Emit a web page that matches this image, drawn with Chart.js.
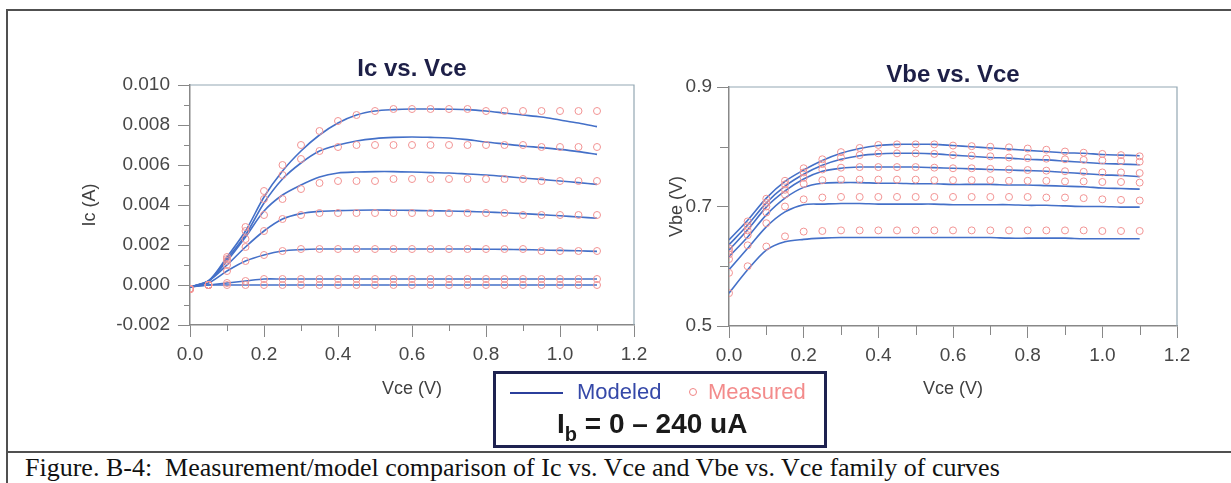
<!DOCTYPE html>
<html>
<head>
<meta charset="utf-8">
<script src="https://cdn.jsdelivr.net/npm/chart.js@4.4.1/dist/chart.umd.min.js"></script>
<style>
  body { margin: 0; background: #fff; width: 1231px; height: 483px; overflow: hidden; position: relative; font-family: "Liberation Sans", Arial, sans-serif; }
  .rule { position: absolute; background: #505050; }
  canvas { position: absolute; }
  #legend { position: absolute; left: 493px; top: 371px; width: 334px; height: 77px; border: 3px solid #1e2250; box-sizing: border-box; }
  #legend span { position: absolute; white-space: nowrap; }
  #caption { position: absolute; left: 25px; top: 455px; font: 26px/26px "Liberation Serif", "Times New Roman", serif; color: #111; white-space: nowrap; }
</style>
</head>
<body>
<div class="rule" style="left:7px; top:9px; width:1224px; height:2px;"></div>
<div class="rule" style="left:6px; top:9px; width:2px; height:474px;"></div>
<div class="rule" style="left:7px; top:451px; width:1224px; height:2px;"></div>

<canvas id="icChart" width="640" height="400" style="left:20px; top:20px;"></canvas>
<canvas id="vbeChart" width="560" height="400" style="left:660px; top:20px;"></canvas>

<div id="legend">
  <span style="left:14px; top:18px; width:53px; border-top:2px solid #2b3f9c;"></span>
  <span style="left:81px; top:7px; font-size:22px; line-height:22px; color:#3548a8;">Modeled</span>
  <span style="left:193px; top:14px; width:6px; height:6px; border:1px solid #f08585; border-radius:50%;"></span>
  <span style="left:212px; top:7px; font-size:22px; line-height:22px; color:#f38b8b;">Measured</span>
  <span style="left:61px; top:36px; font-size:28px; line-height:28px; font-weight:bold; color:#1a1a1a;">I<sub style="font-size:20px; vertical-align:-8px;">b</sub> = 0 &ndash; 240 uA</span>
</div>

<div id="caption">Figure. B-4:&nbsp; Measurement/model comparison of Ic vs. Vce and Vbe vs. Vce family of curves</div>

<script>
// sweep points (V)
const vce = [0, 0.05, 0.1, 0.15, 0.2, 0.25, 0.3, 0.35, 0.4, 0.45, 0.5, 0.55, 0.6, 0.65, 0.7, 0.75, 0.8, 0.85, 0.9, 0.95, 1.0, 1.05, 1.1];

// Ic vs Vce, modeled (A), lowest Ib first
const icMod1 = [-0.0001, 0.0000, 0.0000, 0.0000, 0.0000, 0.0000, 0.0000, 0.0000, 0.0000, 0.0000, 0.0000, 0.0000, 0.0000, 0.0000, 0.0000, 0.0000, 0.0000, 0.0000, 0.0000, 0.0000, 0.0000, 0.0000, 0.0000];
const icMod2 = [-0.0001, 0.0000, 0.0001, 0.0002, 0.0003, 0.0003, 0.0003, 0.0003, 0.0003, 0.0003, 0.0003, 0.0003, 0.0003, 0.0003, 0.0003, 0.0003, 0.0003, 0.0003, 0.0003, 0.0003, 0.0003, 0.0003, 0.0003];
const icMod3 = [-0.0001, 0.0001, 0.0007, 0.0012, 0.0015, 0.0017, 0.00177, 0.0018, 0.0018, 0.0018, 0.0018, 0.0018, 0.0018, 0.0018, 0.0018, 0.0018, 0.00179, 0.00178, 0.00177, 0.00175, 0.00173, 0.00171, 0.00168];
const icMod4 = [-0.0001, 0.0002, 0.0010, 0.0019, 0.0027, 0.0033, 0.00357, 0.00368, 0.00372, 0.00374, 0.00375, 0.00374, 0.00373, 0.00371, 0.0037, 0.00368, 0.00365, 0.00361, 0.00357, 0.00352, 0.00346, 0.0034, 0.00334];
const icMod5 = [-0.0001, 0.0002, 0.0012, 0.0024, 0.0037, 0.0045, 0.0050, 0.0054, 0.0056, 0.00565, 0.00567, 0.00567, 0.00565, 0.00562, 0.0056, 0.00555, 0.0055, 0.00543, 0.00535, 0.00528, 0.0052, 0.00512, 0.00503];
const icMod6 = [-0.0001, 0.0002, 0.0013, 0.0025, 0.0041, 0.0053, 0.0061, 0.0067, 0.0070, 0.0072, 0.00732, 0.00738, 0.0074, 0.00738, 0.00735, 0.00727, 0.00715, 0.00705, 0.00695, 0.00687, 0.00678, 0.00667, 0.00653];
const icMod7 = [-0.0001, 0.0002, 0.0014, 0.0027, 0.0044, 0.0057, 0.0067, 0.0075, 0.0081, 0.0085, 0.0087, 0.00877, 0.0088, 0.0088, 0.00879, 0.00877, 0.0087, 0.0086, 0.0085, 0.0084, 0.00825, 0.0081, 0.00792];

// Ic vs Vce, measured (A)
const icMeas1 = [-0.0002, 0.0000, 0.0000, 0.0000, 0.0000, 0.0000, 0.0000, 0.0000, 0.0000, 0.0000, 0.0000, 0.0000, 0.0000, 0.0000, 0.0000, 0.0000, 0.0000, 0.0000, 0.0000, 0.0000, 0.0000, 0.0000, 0.0000];
const icMeas2 = [-0.0002, 0.0000, 0.0001, 0.0002, 0.0003, 0.0003, 0.0003, 0.0003, 0.0003, 0.0003, 0.0003, 0.0003, 0.0003, 0.0003, 0.0003, 0.0003, 0.0003, 0.0003, 0.0003, 0.0003, 0.0003, 0.0003, 0.0003];
const icMeas3 = [-0.0002, 0.0000, 0.0007, 0.0012, 0.0015, 0.0017, 0.0018, 0.0018, 0.0018, 0.0018, 0.0018, 0.0018, 0.0018, 0.0018, 0.0018, 0.0018, 0.0018, 0.0018, 0.0018, 0.0017, 0.0017, 0.0017, 0.0017];
const icMeas4 = [-0.0002, 0.0000, 0.0010, 0.0019, 0.0027, 0.0033, 0.0035, 0.0036, 0.0036, 0.0036, 0.0036, 0.0036, 0.0036, 0.0036, 0.0036, 0.0036, 0.0036, 0.0036, 0.0035, 0.0035, 0.0035, 0.0035, 0.0035];
const icMeas5 = [-0.0002, 0.0000, 0.0012, 0.0023, 0.0035, 0.0043, 0.0048, 0.0051, 0.0052, 0.0052, 0.0052, 0.0053, 0.0053, 0.0053, 0.0053, 0.0053, 0.0053, 0.0053, 0.0053, 0.0052, 0.0052, 0.0052, 0.0052];
const icMeas6 = [-0.0002, 0.0000, 0.0013, 0.0027, 0.0043, 0.0055, 0.0063, 0.0067, 0.0069, 0.0070, 0.0070, 0.0070, 0.0070, 0.0070, 0.0070, 0.0070, 0.0070, 0.0070, 0.0070, 0.0069, 0.0069, 0.0069, 0.0069];
const icMeas7 = [-0.0002, 0.0000, 0.0014, 0.0029, 0.0047, 0.0060, 0.0070, 0.0077, 0.0082, 0.0085, 0.0087, 0.0088, 0.0088, 0.0088, 0.0088, 0.0088, 0.0087, 0.0087, 0.0087, 0.0087, 0.0087, 0.0087, 0.0087];

// Vbe vs Vce, modeled (V)
const vbeMod1 = [0.555, 0.594, 0.627, 0.641, 0.645, 0.647, 0.648, 0.648, 0.648, 0.648, 0.648, 0.648, 0.648, 0.648, 0.648, 0.647, 0.647, 0.647, 0.647, 0.646, 0.646, 0.646, 0.646];
const vbeMod2 = [0.594, 0.630, 0.666, 0.691, 0.703, 0.704, 0.705, 0.705, 0.704, 0.704, 0.704, 0.704, 0.703, 0.703, 0.703, 0.703, 0.702, 0.702, 0.701, 0.700, 0.700, 0.699, 0.699];
const vbeMod3 = [0.616, 0.649, 0.686, 0.714, 0.732, 0.739, 0.740, 0.740, 0.739, 0.739, 0.738, 0.738, 0.737, 0.737, 0.737, 0.736, 0.736, 0.735, 0.734, 0.733, 0.731, 0.730, 0.729];
const vbeMod4 = [0.627, 0.661, 0.699, 0.726, 0.746, 0.759, 0.764, 0.766, 0.766, 0.766, 0.766, 0.765, 0.764, 0.763, 0.762, 0.761, 0.760, 0.759, 0.757, 0.755, 0.753, 0.752, 0.750];
const vbeMod5 = [0.636, 0.669, 0.706, 0.734, 0.754, 0.769, 0.779, 0.785, 0.788, 0.789, 0.789, 0.788, 0.786, 0.784, 0.782, 0.781, 0.779, 0.778, 0.776, 0.774, 0.772, 0.771, 0.770];
const vbeMod6 = [0.644, 0.677, 0.714, 0.742, 0.761, 0.777, 0.789, 0.797, 0.802, 0.804, 0.804, 0.804, 0.802, 0.800, 0.798, 0.796, 0.794, 0.792, 0.790, 0.789, 0.787, 0.786, 0.785];

// Vbe vs Vce, measured (V)
const vbeMeas1 = [0.555, 0.600, 0.633, 0.650, 0.658, 0.659, 0.660, 0.660, 0.660, 0.660, 0.660, 0.660, 0.660, 0.660, 0.660, 0.660, 0.660, 0.660, 0.660, 0.660, 0.659, 0.659, 0.659];
const vbeMeas2 = [0.589, 0.635, 0.672, 0.700, 0.712, 0.715, 0.716, 0.716, 0.716, 0.716, 0.716, 0.716, 0.716, 0.716, 0.716, 0.716, 0.716, 0.715, 0.715, 0.714, 0.712, 0.711, 0.710];
const vbeMeas3 = [0.612, 0.652, 0.690, 0.720, 0.738, 0.744, 0.745, 0.745, 0.745, 0.745, 0.745, 0.744, 0.744, 0.744, 0.744, 0.743, 0.743, 0.743, 0.742, 0.742, 0.741, 0.741, 0.740];
const vbeMeas4 = [0.620, 0.660, 0.700, 0.728, 0.748, 0.762, 0.765, 0.766, 0.766, 0.766, 0.766, 0.765, 0.764, 0.764, 0.763, 0.762, 0.761, 0.760, 0.759, 0.758, 0.757, 0.757, 0.756];
const vbeMeas5 = [0.626, 0.667, 0.706, 0.737, 0.757, 0.771, 0.782, 0.786, 0.789, 0.789, 0.789, 0.788, 0.786, 0.785, 0.784, 0.782, 0.781, 0.780, 0.779, 0.778, 0.777, 0.776, 0.775];
const vbeMeas6 = [0.630, 0.675, 0.713, 0.743, 0.764, 0.779, 0.791, 0.798, 0.803, 0.804, 0.804, 0.804, 0.802, 0.801, 0.800, 0.799, 0.797, 0.795, 0.792, 0.790, 0.788, 0.786, 0.784];

const modelColor = '#4470c8';
const measColor = '#f29494';

Chart.defaults.font.family = '"Liberation Sans", Arial, sans-serif';

function series(ys) {
  return vce.map((x, i) => ({ x: x, y: ys[i] }));
}

function makeDatasets(modeled, measured) {
  const sets = [];
  measured.forEach(ys => sets.push({
    data: series(ys),
    showLine: false,
    pointStyle: 'circle',
    pointRadius: 3.5,
    pointBorderWidth: 1,
    pointBorderColor: measColor,
    pointBackgroundColor: 'rgba(0,0,0,0)',
    order: 0
  }));
  modeled.forEach(ys => sets.push({
    data: series(ys),
    showLine: true,
    borderColor: modelColor,
    borderWidth: 1.6,
    pointRadius: 0,
    tension: 0.3,
    order: 1
  }));
  return sets;
}

// plot frame (top/right) and the short minor ticks between labelled ones
const plotExtras = {
  id: 'plotExtras',
  afterDraw(chart, args, opts) {
    const { ctx, chartArea: a, scales } = chart;
    ctx.save();
    ctx.strokeStyle = '#93a7b3';
    ctx.lineWidth = 1.2;
    ctx.beginPath();
    ctx.moveTo(a.left, a.top);
    ctx.lineTo(a.right, a.top);
    ctx.lineTo(a.right, a.bottom);
    ctx.stroke();

    ctx.strokeStyle = '#888';
    ctx.lineWidth = 1;
    const xt = scales.x.ticks;
    for (let i = 0; i < xt.length - 1; i++) {
      const px = Math.round(scales.x.getPixelForValue((xt[i].value + xt[i + 1].value) / 2)) + 0.5;
      ctx.beginPath();
      ctx.moveTo(px, a.bottom);
      ctx.lineTo(px, a.bottom + opts.minorLen);
      ctx.stroke();
    }
    const yt = scales.y.ticks;
    for (let i = 0; i < yt.length - 1; i++) {
      const py = Math.round(scales.y.getPixelForValue((yt[i].value + yt[i + 1].value) / 2)) + 0.5;
      ctx.beginPath();
      ctx.moveTo(a.left, py);
      ctx.lineTo(a.left - opts.minorLen, py);
      ctx.stroke();
    }
    ctx.restore();
  }
};

function axisX(height) {
  return {
    type: 'linear',
    min: 0,
    max: 1.2,
    ticks: { stepSize: 0.2, autoSkip: false, maxRotation: 0, padding: 6, color: '#474747', font: { size: 19 },
      callback: v => v.toFixed(1) },
    grid: { drawOnChartArea: false, tickLength: 12, tickColor: '#888' },
    border: { color: '#888', width: 1.5 },
    title: { display: true, text: 'Vce (V)', color: '#404040', font: { size: 18 }, padding: { top: 0, bottom: 0 } },
    afterFit: s => { s.height = height; }
  };
}

function chartOptions(title, titlePad, yAxis, xHeight, padding, minorLen) {
  return {
    responsive: false,
    animation: false,
    devicePixelRatio: 1,
    layout: { padding: padding },
    plugins: {
      legend: { display: false },
      tooltip: { enabled: false },
      title: { display: true, text: title, fullSize: false, color: '#1d1f47',
        font: { size: 24, weight: 'bold', lineHeight: 1 }, padding: titlePad },
      plotExtras: { minorLen: minorLen }
    },
    scales: { x: axisX(xHeight), y: yAxis }
  };
}

new Chart(document.getElementById('icChart'), {
  type: 'scatter',
  data: { datasets: makeDatasets(
    [icMod1, icMod2, icMod3, icMod4, icMod5, icMod6, icMod7],
    [icMeas1, icMeas2, icMeas3, icMeas4, icMeas5, icMeas6, icMeas7]) },
  options: chartOptions('Ic vs. Vce', { top: 0, bottom: 4 }, {
    min: -0.002,
    max: 0.010,
    ticks: { stepSize: 0.002, padding: 8, color: '#474747', font: { size: 19 },
      callback: v => Math.abs(v) < 1e-9 ? '0.000' : v.toFixed(3) },
    grid: { drawOnChartArea: false, tickLength: 12, tickColor: '#888' },
    border: { color: '#888', width: 1.5 },
    title: { display: true, text: 'Ic (A)', color: '#404040', font: { size: 18 }, padding: { top: 59, bottom: 0 } },
    afterFit: s => { s.width = 170; }
  }, 75, { left: 0, right: 26, top: 37, bottom: 20 }, 6),
  plugins: [plotExtras]
});

new Chart(document.getElementById('vbeChart'), {
  type: 'scatter',
  data: { datasets: makeDatasets(
    [vbeMod1, vbeMod2, vbeMod3, vbeMod4, vbeMod5, vbeMod6],
    [vbeMeas1, vbeMeas2, vbeMeas3, vbeMeas4, vbeMeas5, vbeMeas6]) },
  options: chartOptions('Vbe vs. Vce', { top: 0, bottom: 0 }, {
    min: 0.5,
    max: 0.9,
    ticks: { stepSize: 0.2, padding: 5, color: '#474747', font: { size: 19 },
      callback: v => v.toFixed(1) },
    grid: { drawOnChartArea: false, tickLength: 12, tickColor: '#888' },
    border: { color: '#888', width: 1.5 },
    title: { display: true, text: 'Vbe (V)', color: '#404040', font: { size: 18 }, padding: { top: 6, bottom: 0 } },
    afterFit: s => { s.width = 69; }
  }, 74, { left: 0, right: 43, top: 43, bottom: 20 }, 9),
  plugins: [plotExtras]
});
</script>
</body>
</html>
